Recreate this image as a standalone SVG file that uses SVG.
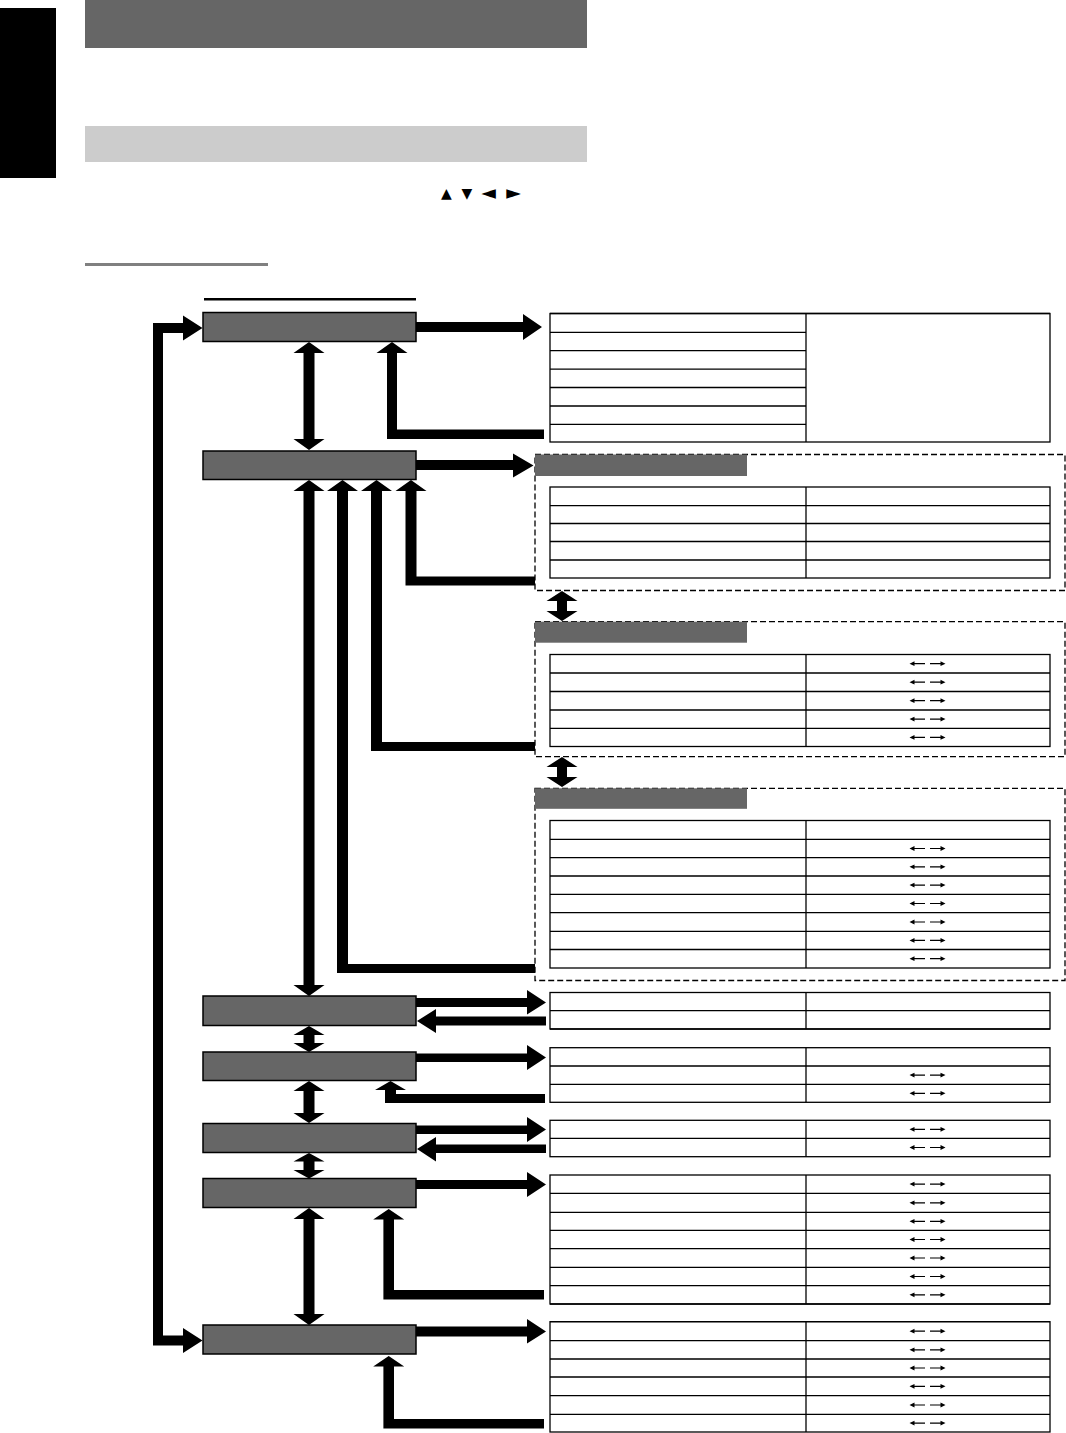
<svg xmlns="http://www.w3.org/2000/svg" xmlns:xlink="http://www.w3.org/1999/xlink" width="1066" height="1433" viewBox="0 0 1066 1433">
<style>
.node{fill:#666666;stroke:#000;stroke-width:1.5}
.tbl{fill:#fff;stroke:#000;stroke-width:1.3}
.ln{stroke:#000;stroke-width:1.3}
.dash{fill:none;stroke:#000;stroke-width:1.3;stroke-dasharray:6 3}
.hdr{fill:#666666}
.arr{fill:#000}
.glyph{font-family:"DejaVu Sans",sans-serif;font-size:14px;fill:#000}
.glyph2{font-family:"DejaVu Sans",sans-serif;font-size:19px;fill:#000}
</style>
<defs>
<g id="lr"><path d="M913 0 H925 M930 0 H942" stroke="#000" stroke-width="1.2"/><path d="M909.5 0 l5 -2.4 v4.8z M945.5 0 l-5 -2.4 v4.8z" fill="#000"/></g>
</defs>
<rect width="1066" height="1433" fill="#fff"/>
<!-- page decorations -->
<rect x="0" y="8" width="56" height="170" fill="#000"/>
<rect x="85" y="0" width="502" height="48" fill="#666666"/>
<rect x="85" y="126" width="502" height="36" fill="#cccccc"/>
<text class="glyph" x="446.5" y="198" text-anchor="middle">▲</text>
<text class="glyph" x="467" y="198" text-anchor="middle">▼</text>
<text class="glyph2" x="488.5" y="199" text-anchor="middle">◄</text>
<text class="glyph2" x="513.5" y="199" text-anchor="middle">►</text>
<rect x="85" y="263" width="183" height="3" fill="#808080"/>
<rect x="204" y="298" width="212" height="2.5" fill="#000"/>

<!-- nodes -->
<g id="node1"><rect class="node" x="203" y="312.5" width="213" height="29"/></g>
<g id="node2"><rect class="node" x="203" y="451" width="213" height="28.5"/></g>
<g id="node3"><rect class="node" x="203" y="996" width="213" height="29.5"/></g>
<g id="node4"><rect class="node" x="203" y="1052" width="213" height="28.5"/></g>
<g id="node5"><rect class="node" x="203" y="1123.5" width="213" height="29"/></g>
<g id="node6"><rect class="node" x="203" y="1178.5" width="213" height="29"/></g>
<g id="node7"><rect class="node" x="203" y="1325" width="213" height="29"/></g>

<!-- table 1 -->
<g id="table1">
<rect class="tbl" x="550" y="313.5" width="500" height="128.5"/>
<line class="ln" x1="550" y1="313.5" x2="1050" y2="313.5" stroke-width="2"/>
<line class="ln" x1="806" y1="313.5" x2="806" y2="442"/>
<path class="ln" d="M550 332.3H806M550 350.7H806M550 369.2H806M550 387.5H806M550 406H806M550 424.4H806"/>
</g>

<!-- dashed box 1 / table 2 -->
<g id="box1">
<rect class="dash" x="535" y="454.5" width="530" height="136"/>
<rect class="hdr" x="535" y="454.5" width="212" height="21.5"/>
<rect class="tbl" x="550" y="487" width="500" height="91"/>
<line class="ln" x1="806" y1="487" x2="806" y2="578"/>
<path class="ln" d="M550 505.7H1050M550 523.5H1050M550 541.5H1050M550 560H1050"/>
</g>

<!-- dashed box 2 / table 3 -->
<g id="box2">
<rect class="dash" x="535" y="621.7" width="530" height="135"/>
<rect class="hdr" x="535" y="621.7" width="212" height="21"/>
<rect class="tbl" x="550" y="654.5" width="500" height="92"/>
<line class="ln" x1="806" y1="654.5" x2="806" y2="746.5"/>
<path class="ln" d="M550 673H1050M550 691.5H1050M550 710H1050M550 728.3H1050"/>
<use href="#lr" y="663.7"/><use href="#lr" y="682.2"/><use href="#lr" y="700.7"/><use href="#lr" y="719.1"/><use href="#lr" y="737.4"/>
</g>

<!-- dashed box 3 / table 4 -->
<g id="box3">
<rect class="dash" x="535" y="788.3" width="530" height="192.2"/>
<rect class="hdr" x="535" y="788.3" width="212" height="20.5"/>
<rect class="tbl" x="550" y="820.5" width="500" height="147.5"/>
<line class="ln" x1="806" y1="820.5" x2="806" y2="968"/>
<path class="ln" d="M550 839.3H1050M550 857.7H1050M550 876H1050M550 894.3H1050M550 912.7H1050M550 931.3H1050M550 949.5H1050"/>
<use href="#lr" y="848.5"/><use href="#lr" y="866.8"/><use href="#lr" y="885.1"/><use href="#lr" y="903.5"/><use href="#lr" y="922"/><use href="#lr" y="940.4"/><use href="#lr" y="958.7"/>
</g>

<!-- table 5 -->
<g id="table5">
<rect class="tbl" x="550" y="992.5" width="500" height="36.5"/>
<line class="ln" x1="550" y1="1029" x2="1050" y2="1029" stroke-width="2"/>
<line class="ln" x1="806" y1="992.5" x2="806" y2="1029"/>
<path class="ln" d="M550 1010.7H1050"/>
</g>

<!-- table 6 -->
<g id="table6">
<rect class="tbl" x="550" y="1047.7" width="500" height="54.6"/>
<line class="ln" x1="806" y1="1047.7" x2="806" y2="1102.3"/>
<path class="ln" d="M550 1066H1050M550 1084.3H1050"/>
<use href="#lr" y="1075.1"/><use href="#lr" y="1093.3"/>
</g>

<!-- table 7 -->
<g id="table7">
<rect class="tbl" x="550" y="1120.3" width="500" height="36.4"/>
<line class="ln" x1="806" y1="1120.3" x2="806" y2="1156.7"/>
<path class="ln" d="M550 1138.3H1050"/>
<use href="#lr" y="1129.3"/><use href="#lr" y="1147.5"/>
</g>

<!-- table 8 -->
<g id="table8">
<rect class="tbl" x="550" y="1175" width="500" height="129"/>
<line class="ln" x1="550" y1="1304" x2="1050" y2="1304" stroke-width="2"/>
<line class="ln" x1="806" y1="1175" x2="806" y2="1304"/>
<path class="ln" d="M550 1193.3H1050M550 1212.3H1050M550 1230.3H1050M550 1248.7H1050M550 1267.3H1050M550 1285.7H1050"/>
<use href="#lr" y="1184.1"/><use href="#lr" y="1202.8"/><use href="#lr" y="1221.3"/><use href="#lr" y="1239.5"/><use href="#lr" y="1258"/><use href="#lr" y="1276.5"/><use href="#lr" y="1294.8"/>
</g>

<!-- table 9 -->
<g id="table9">
<rect class="tbl" x="550" y="1321.7" width="500" height="110.3"/>
<line class="ln" x1="550" y1="1321.7" x2="1050" y2="1321.7" stroke-width="2"/>
<line class="ln" x1="806" y1="1321.7" x2="806" y2="1432"/>
<path class="ln" d="M550 1340.7H1050M550 1359H1050M550 1377H1050M550 1395.7H1050M550 1414.3H1050"/>
<use href="#lr" y="1331.2"/><use href="#lr" y="1349.8"/><use href="#lr" y="1368"/><use href="#lr" y="1386.3"/><use href="#lr" y="1405"/><use href="#lr" y="1423.1"/>
</g>

<!-- connectors -->
<g id="connectors" class="arr">
<!-- loop left -->
<polygon points="202.5,328 183,315.5 183,323 153,323 153,1345.5 183,1345.5 183,1353 202.5,1340.5 183,1328 183,1335.5 163,1335.5 163,333 183,333 183,340.5"/>
<!-- vertical double arrows -->
<polygon points="309,342 324.5,353 314.5,353 314.5,439 324.5,439 309,450 293.5,439 303.5,439 303.5,353 293.5,353"/>
<polygon points="309,480 324.5,491 314.5,491 314.5,985 324.5,985 309,996 293.5,985 303.5,985 303.5,491 293.5,491"/>
<polygon points="309,1026 324.5,1035 314.5,1035 314.5,1043 324.5,1043 309,1052 293.5,1043 303.5,1043 303.5,1035 293.5,1035"/>
<polygon points="309,1081 324.5,1091 314.5,1091 314.5,1113 324.5,1113 309,1123 293.5,1113 303.5,1113 303.5,1091 293.5,1091"/>
<polygon points="309,1153 324.5,1161.5 314.5,1161.5 314.5,1170 324.5,1170 309,1178.5 293.5,1170 303.5,1170 303.5,1161.5 293.5,1161.5"/>
<polygon points="309,1208 324.5,1219 314.5,1219 314.5,1314 324.5,1314 309,1325 293.5,1314 303.5,1314 303.5,1219 293.5,1219"/>
<polygon points="562,591 577.5,601 567,601 567,611 577.5,611 562,621 546.5,611 557,611 557,601 546.5,601"/>
<polygon points="562,757 577.5,767 567,767 567,777 577.5,777 562,787 546.5,777 557,777 557,767 546.5,767"/>
<!-- return L arrows -->
<polygon points="392,342 407.5,353 397,353 397,429.5 544,429.5 544,439 387,439 387,353 376.5,353"/>
<polygon points="411,480 426.5,491 416.5,491 416.5,576.5 535,576.5 535,585.5 405.5,585.5 405.5,491 395.5,491"/>
<polygon points="376.5,480 392,491 382,491 382,742 535,742 535,751 371,751 371,491 361,491"/>
<polygon points="342.5,480 358,491 348,491 348,964 535,964 535,973 337,973 337,491 327,491"/>
<polygon points="390.5,1081 406,1090 396,1090 396,1094 545,1094 545,1103 385,1103 385,1090 375,1090"/>
<polygon points="388.7,1209 404.2,1219.5 394,1219.5 394,1290 544,1290 544,1299.5 383.4,1299.5 383.4,1219.5 373.2,1219.5"/>
<polygon points="388.7,1356 404.2,1366.5 394,1366.5 394,1419 544,1419 544,1428.5 383.4,1428.5 383.4,1366.5 373.2,1366.5"/>
<!-- right arrows node -> table -->
<polygon points="416,322 523,322 523,314 542,327 523,340 523,332 416,332"/>
<polygon points="416,460 513,460 513,453.5 533.5,465.5 513,477.5 513,470 416,470"/>
<polygon points="416,998 527,998 527,990 546,1002.5 527,1014.5 527,1007 416,1007"/>
<polygon points="416,1053.5 527,1053.5 527,1045 546,1057.5 527,1070 527,1062 416,1062"/>
<polygon points="416,1125.5 527,1125.5 527,1117 546,1129.5 527,1142 527,1134 416,1134"/>
<polygon points="416,1180 527,1180 527,1172 546,1184.5 527,1197 527,1189 416,1189"/>
<polygon points="416,1326.5 527,1326.5 527,1319 546,1331.5 527,1343.5 527,1336.5 416,1336.5"/>
<!-- left arrows table -> node -->
<polygon points="546,1016.5 436,1016.5 436,1009 417,1021 436,1033 436,1025.5 546,1025.5"/>
<polygon points="546,1144.5 436,1144.5 436,1137 417,1149 436,1161.5 436,1153 546,1153"/>
</g>
</svg>
